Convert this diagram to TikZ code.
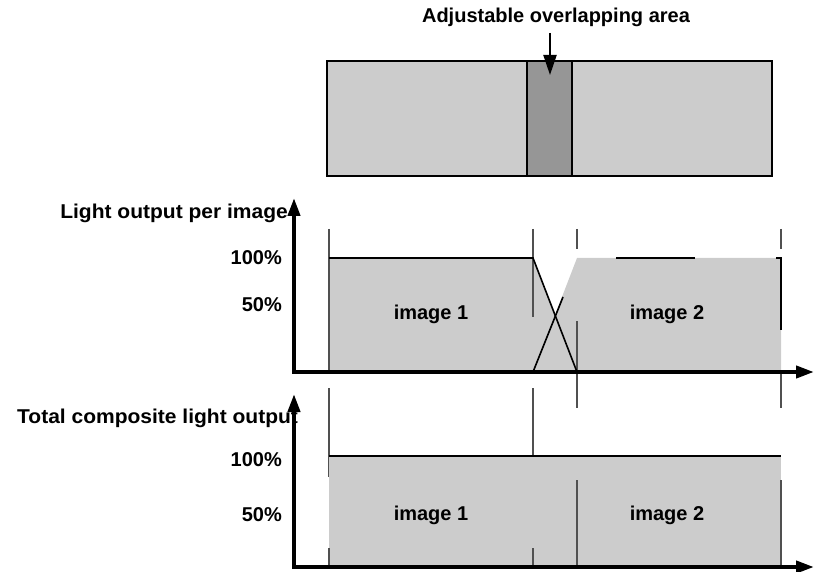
\documentclass[tikz,border=0pt]{standalone}
\usepackage{fontspec}
\setmainfont{Liberation Sans}
\usetikzlibrary{arrows.meta}
\definecolor{lightfill}{HTML}{CCCCCC}
\definecolor{darkfill}{HTML}{969696}
\definecolor{guidegray}{HTML}{505050}
\tikzset{
  lbl/.style={font=\fontsize{20}{22}\selectfont\bfseries, inner sep=0pt},
  axlbl/.style={lbl, font=\fontsize{20}{22}\selectfont\bfseries\addfontfeature{FakeStretch=1.05}},
  axis/.style={line width=4pt, -{Triangle[length=18pt,width=12pt]}},
  guide/.style={guidegray, line width=1.1pt},
  edge/.style={black, line width=1.6pt},
}
\begin{document}
\begin{tikzpicture}[x=1pt,y=-1pt]
\useasboundingbox (0,0) rectangle (814,572);
% ---------- top bar ----------
\draw[edge, fill=lightfill] (327,61) rectangle (772,176);
\draw[edge, fill=darkfill] (527,61) rectangle (572,176);
\node[lbl] (adj) at (556,17) {Adjustable overlapping area};
\coordinate (adjtip) at (550,75);
\draw[line width=2pt, -{Triangle[length=20pt,width=13pt]}] (550,33) -- (adjtip);

% ---------- middle chart ----------
\fill[lightfill] (329,372) -- (329,258) -- (533,258) -- (577,372) -- cycle;
\fill[lightfill] (533,372) -- (577,258) -- (781,258) -- (781,372) -- cycle;
% guides
\draw[guide] (329,229) -- (329,372);
\draw[guide] (533,229) -- (533,317);
\draw[guide] (577,229) -- (577,249);
\draw[guide] (577,321) -- (577,408);
\draw[guide] (781,229) -- (781,249);
\draw[guide] (781,372) -- (781,408);
\draw[guide] (329,388) -- (329,477);
\draw[guide] (533,388) -- (533,477);
% black edges
\draw[edge] (329,258) -- (533,258) -- (577,372);
\draw[edge] (533,372) -- (563,297);
\draw[edge] (616,258) -- (695,258);
\draw[edge] (776,258) -- (781,258) -- (781,330);
% axes
\node[axlbl, anchor=east] (t1) at (288,213) {Light output per image};
\coordinate (y1) at (294,198);
\coordinate (x1) at (814,372);
\draw[axis] (294,370) -- (y1);
\draw[axis] (292,372) -- (x1);
\node[lbl, anchor=east] (p100a) at (282,258) {100\%};
\node[lbl, anchor=east] (p50a) at (282,305) {50\%};
\node[lbl] (im1a) at (431,314) {image 1};
\node[lbl] (im2a) at (667,314) {image 2};

% ---------- bottom chart ----------
\fill[lightfill] (329,456) rectangle (781,567);
\draw[guide] (329,548) -- (329,567);
\draw[guide] (533,548) -- (533,567);
\draw[guide] (577,480) -- (577,567);
\draw[guide] (781,480) -- (781,567);
\draw[edge] (329,456) -- (781,456);
\node[axlbl, anchor=west] (t2) at (17,418) {Total composite light output};
\coordinate (y2) at (294,394);
\coordinate (x2) at (814,567);
\draw[axis] (294,566) -- (y2);
\draw[axis] (292,567) -- (x2);
\node[lbl, anchor=east] (p100b) at (282,460) {100\%};
\node[lbl, anchor=east] (p50b) at (282,515) {50\%};
\node[lbl] (im1b) at (431,515) {image 1};
\node[lbl] (im2b) at (667,515) {image 2};
\end{tikzpicture}
\end{document}
